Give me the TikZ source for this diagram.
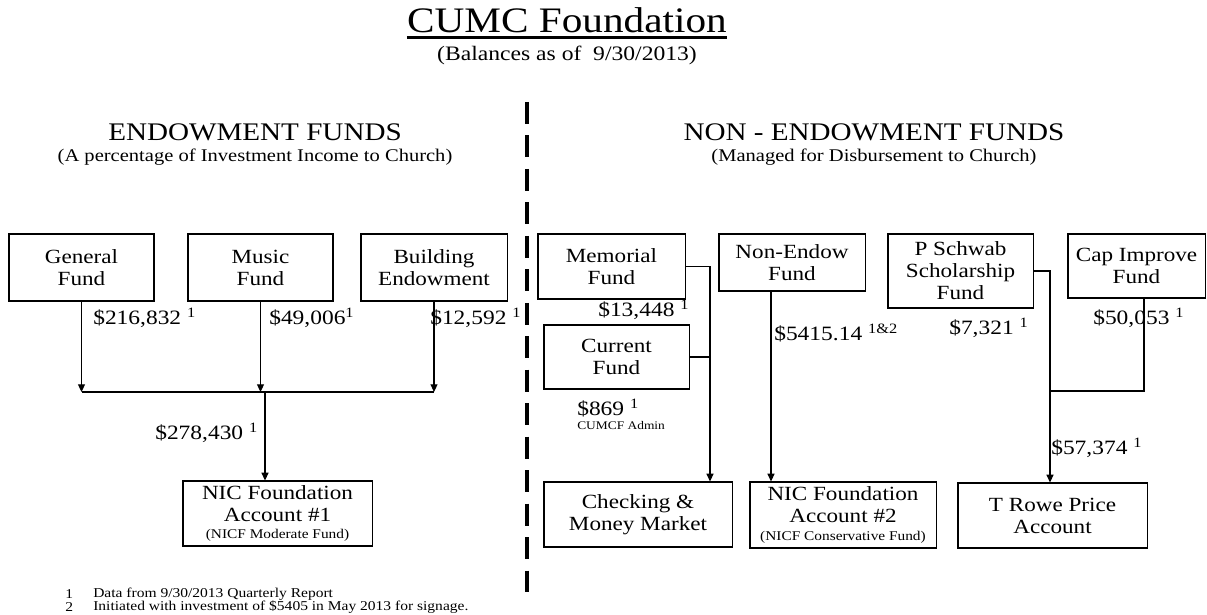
\documentclass[tikz,border=0pt]{standalone}
\usepackage{fontspec}
\setmainfont{Liberation Serif}[FakeStretch=1.15]
\usetikzlibrary{arrows.meta,positioning}
\newcommand{\fn}[1]{\textsuperscript{#1}}

\begin{document}
\begin{tikzpicture}[x=0.025cm,y=-0.025cm,
  box/.style={draw,line width=0.75pt,inner sep=1pt,align=center,font=\fontsize{14.3}{15.6}\selectfont},
  lbl/.style={anchor=west,inner sep=0pt,font=\fontsize{14.5}{16}\selectfont},
  note/.style={anchor=west,inner sep=0pt,font=\fontsize{9.6}{11}\selectfont},
  flow/.style={line width=0.8pt,-{Triangle[length=5.5pt,width=5pt]}},
  link/.style={line width=0.8pt},
  divider/.style={line width=2.8pt,dash pattern=on 15.6pt off 8.2pt}]
  \useasboundingbox (0,0) rectangle (1207,615);

  % title and column heads
  \node[font=\fontsize{25.5}{30}\selectfont,anchor=base,inner sep=0pt] (title) at (567,33) {CUMC Foundation};
  \draw[line width=1.6pt] ([yshift=-3.2pt]title.base west) -- ([yshift=-3.2pt]title.base east);
  \node[font=\fontsize{14.6}{16}\selectfont] (asof) at (567,55) {(Balances as of\ \ 9/30/2013)};
  \node[font=\fontsize{18}{20}\selectfont] (endh) at (255,132) {ENDOWMENT FUNDS};
  \node[font=\fontsize{12.7}{14}\selectfont] (ends) at (255,157) {(A percentage of Investment Income to Church)};
  \node[font=\fontsize{18}{20}\selectfont] (nonh) at (874,132) {NON - ENDOWMENT FUNDS};
  \node[font=\fontsize{12.7}{14}\selectfont] (nons) at (874,157) {(Managed for Disbursement to Church)};
  \draw[divider] (527,102) -- (527,596);

  % endowment side
  \node[box,minimum width=3.625cm,minimum height=1.675cm] (gen) at (81.5,267.5) {General\\Fund};
  \node[box,minimum width=3.625cm,minimum height=1.675cm] (mus) at (260.5,267.5) {Music\\Fund};
  \node[box,minimum width=3.65cm,minimum height=1.675cm] (bld) at (434,267.5) {Building\\Endowment};
  \node[box,minimum width=4.725cm,minimum height=1.625cm] (nic1) at (277.5,513.5)
    {NIC Foundation\\Account \#1\\[-3pt]{\fontsize{9.5}{10}\selectfont (NICF Moderate Fund)}};
  \coordinate (jl) at (265,392);
  \foreach \n in {gen,mus,bld}
    { \draw[flow] (\n.south) -- (\n.south |- jl); }
  \draw[link] (gen.south |- jl) -- (bld.south |- jl);
  \draw[flow] (jl) -- (jl |- nic1.north);
  \node[lbl] (vgen) at (93,318) {\$216,832 \fn{1}};
  \node[lbl] (vmus) at (269,318) {\$49,006\fn{1}};
  \node[lbl] (vbld) at (430,318) {\$12,592 \fn{1}};
  \node[lbl] (vtot) at (155,433) {\$278,430 \fn{1}};

  % non-endowment side
  \node[box,minimum width=3.675cm,minimum height=1.625cm] (mem) at (611.5,266.5) {Memorial\\Fund};
  \node[box,minimum width=3.625cm,minimum height=1.6cm] (cur) at (616.5,357) {Current\\Fund};
  \node[box,minimum width=3.65cm,minimum height=1.425cm] (ne) at (792,262.5) {Non-Endow\\Fund};
  \node[box,minimum width=3.625cm,minimum height=1.85cm] (ps) at (960.5,271) {P Schwab\\Scholarship\\Fund};
  \node[box,minimum width=3.425cm,minimum height=1.6cm] (cap) at (1136.5,266) {Cap Improve\\Fund};
  \node[box,minimum width=4.7cm,minimum height=1.625cm] (chk) at (638,514.5) {Checking \&\\Money Market};
  \node[box,minimum width=4.65cm,minimum height=1.65cm] (nic2) at (843,515)
    {NIC Foundation\\Account \#2\\[-3pt]{\fontsize{9.5}{10}\selectfont (NICF Conservative Fund)}};
  \node[box,minimum width=4.725cm,minimum height=1.625cm] (trp) at (1052.5,515.5) {T Rowe Price\\Account};

  \coordinate (memdrop) at (710,268);
  \coordinate (nedrop) at (771,291);
  \coordinate (psdrop) at (1050,272);
  \coordinate (capknee) at (1144,391);
  \draw[flow] (mem.east) -| (memdrop |- chk.north);
  \draw[link] (cur.east) -- (memdrop |- cur.east);
  \draw[flow] (ne.south -| nedrop) -- (nedrop |- nic2.north);
  \draw[flow] (ps.east) -| (psdrop |- trp.north);
  \draw[link] (cap.south -| capknee) |- (psdrop |- capknee);

  \node[lbl] (vmem) at (598,310) {\$13,448 \fn{1}};
  \node[lbl] (vcur) at (577,408) {\$869 \fn{1}};
  \node[note,font=\fontsize{8.3}{9}\selectfont] (adm) at (577,426) {CUMCF Admin};
  \node[lbl] (vne) at (774,333) {\$5415.14 \fn{1\&2}};
  \node[lbl] (vps) at (949,328) {\$7,321 \fn{1}};
  \node[lbl] (vcap) at (1093,318) {\$50,053 \fn{1}};
  \node[lbl] (vtrp) at (1051,448) {\$57,374 \fn{1}};

  % footnotes
  \node[note] (n1) at (65,594) {1};
  \node[note] (t1) at (93,594) {Data from 9/30/2013 Quarterly Report};
  \node[note] (n2) at (65,607) {2};
  \node[note] (t2) at (93,607) {Initiated with investment of \$5405 in May 2013 for signage.};
\end{tikzpicture}
\end{document}
